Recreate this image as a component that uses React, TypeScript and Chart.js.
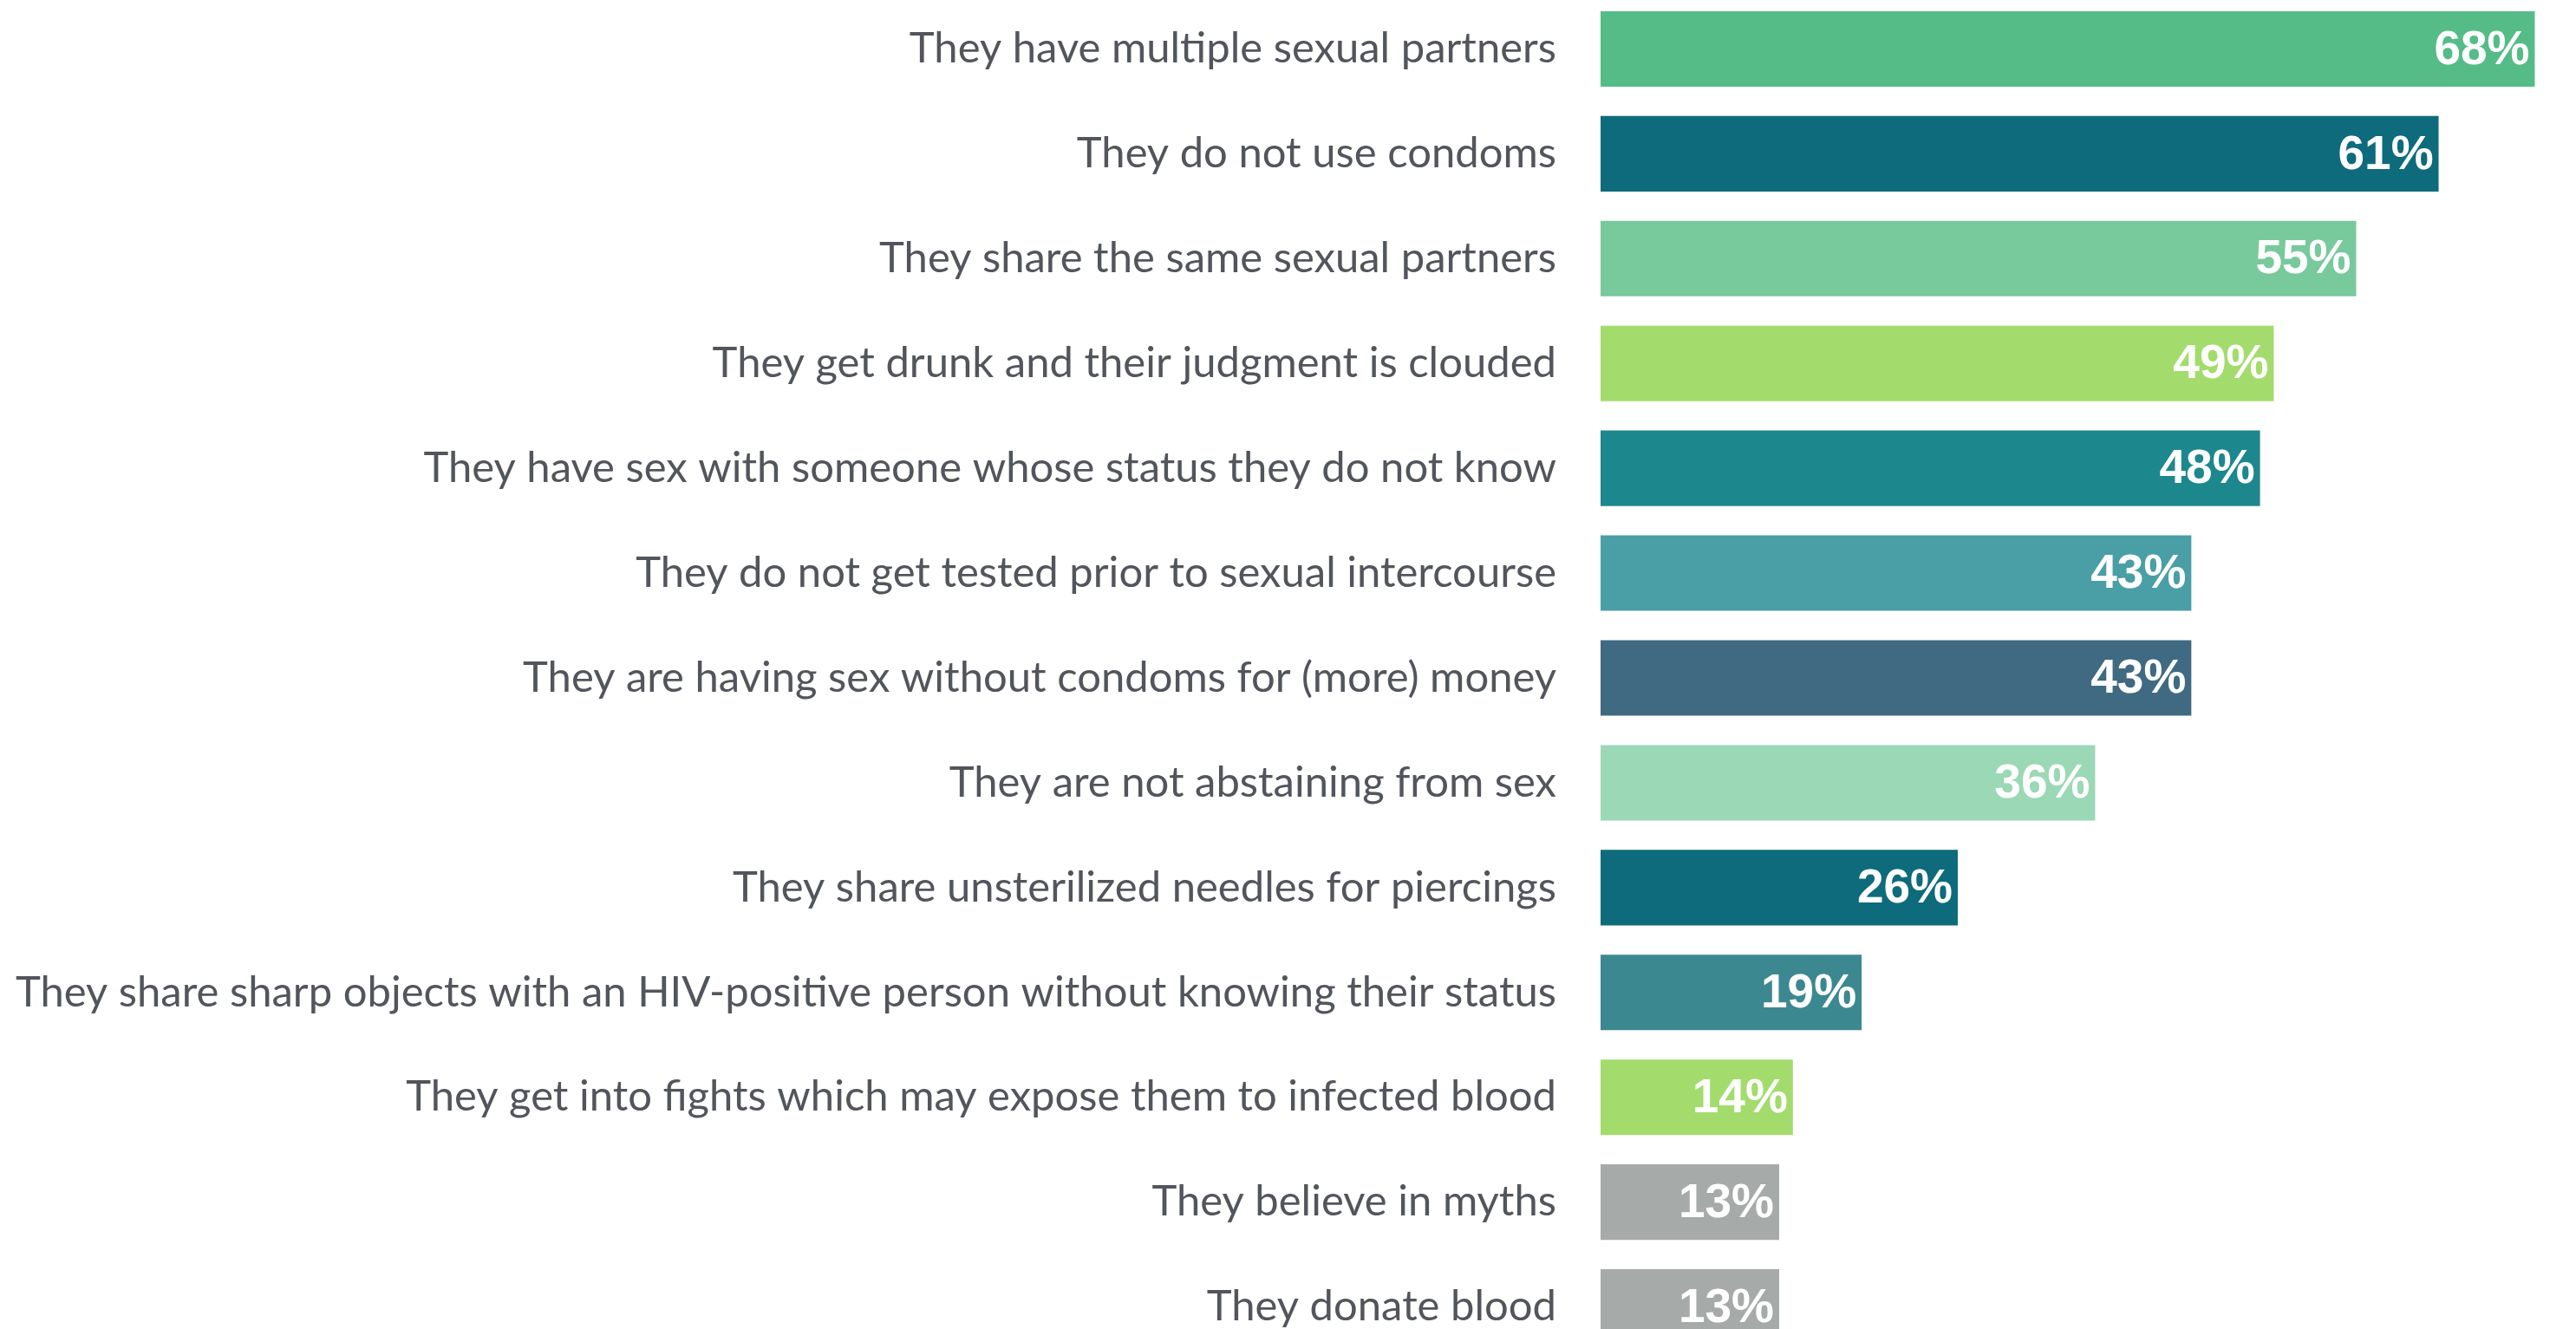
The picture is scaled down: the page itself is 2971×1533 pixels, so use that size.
import React, { useEffect, useRef } from "react";
import { Chart, registerables } from "chart.js";

Chart.register(...registerables);

const categories: string[] = [
  "They have multiple sexual partners",
  "They do not use condoms",
  "They share the same sexual partners",
  "They get drunk and their judgment is clouded",
  "They have sex with someone whose status they do not know",
  "They do not get tested prior to sexual intercourse",
  "They are having sex without condoms for (more) money",
  "They are not abstaining from sex",
  "They share unsterilized needles for piercings",
  "They share sharp objects with an HIV-positive person without knowing their status",
  "They get into fights which may expose them to infected blood",
  "They believe in myths",
  "They donate blood",
];

const values: number[] = [68, 61, 55, 49, 48, 43, 43, 36, 26, 19, 14, 13, 13];

const barColors: string[] = [
  "#55bc87",
  "#0e6b7c",
  "#78c99c",
  "#a3dc6c",
  "#1d878e",
  "#4a9ea6",
  "#3f6a82",
  "#9bd8b5",
  "#0e6b7c",
  "#3c8891",
  "#a3dc6c",
  "#a6aaa8",
  "#a6aaa8",
];

const valueLabelPlugin = {
  id: "valueLabels",
  afterDatasetsDraw(chart: any) {
    const ctx = chart.ctx;
    const meta = chart.getDatasetMeta(0);
    const data = chart.data.datasets[0].data as number[];
    ctx.save();
    ctx.font = "bold 55px 'Liberation Sans', Arial, Helvetica, sans-serif";
    ctx.fillStyle = "#ffffff";
    ctx.textAlign = "right";
    ctx.textBaseline = "middle";
    meta.data.forEach((bar: any, i: number) => {
      ctx.fillText(`${data[i]}%`, bar.x - 6, bar.y + 2);
    });
    ctx.restore();
  },
};

export default function App() {
  const canvasRef = useRef<HTMLCanvasElement | null>(null);

  useEffect(() => {
    if (!canvasRef.current) return;
    const chart = new Chart(canvasRef.current, {
      type: "bar",
      data: {
        labels: categories,
        datasets: [
          {
            data: values,
            backgroundColor: barColors,
            borderWidth: 0,
            categoryPercentage: 1,
            barPercentage: 0.72,
          },
        ],
      },
      options: {
        indexAxis: "y",
        animation: false,
        responsive: true,
        maintainAspectRatio: false,
        layout: { padding: 0 },
        plugins: {
          legend: { display: false },
          tooltip: { enabled: false },
          title: { display: false },
        },
        scales: {
          x: {
            display: false,
            min: 0,
            max: 71,
          },
          y: {
            afterFit: (scale: any) => {
              scale.width = 1846;
              scale.paddingTop = 0;
              scale.paddingBottom = 0;
            },
            grid: { display: false, drawTicks: false },
            border: { display: false },
            ticks: {
              padding: 51,
              color: "#52565c",
              font: { family: "Lato, 'Open Sans', sans-serif", size: 49 },
            },
          },
        },
      },
      plugins: [valueLabelPlugin],
    });
    return () => chart.destroy();
  }, []);

  return (
    <div style={{ position: "fixed", left: 0, top: 0, right: 0, bottom: 0, overflow: "hidden", background: "#ffffff" }}>
      <div style={{ position: "absolute", left: 0, top: -4, width: 2971, height: 1572 }}>
        <canvas ref={canvasRef} />
      </div>
    </div>
  );
}
